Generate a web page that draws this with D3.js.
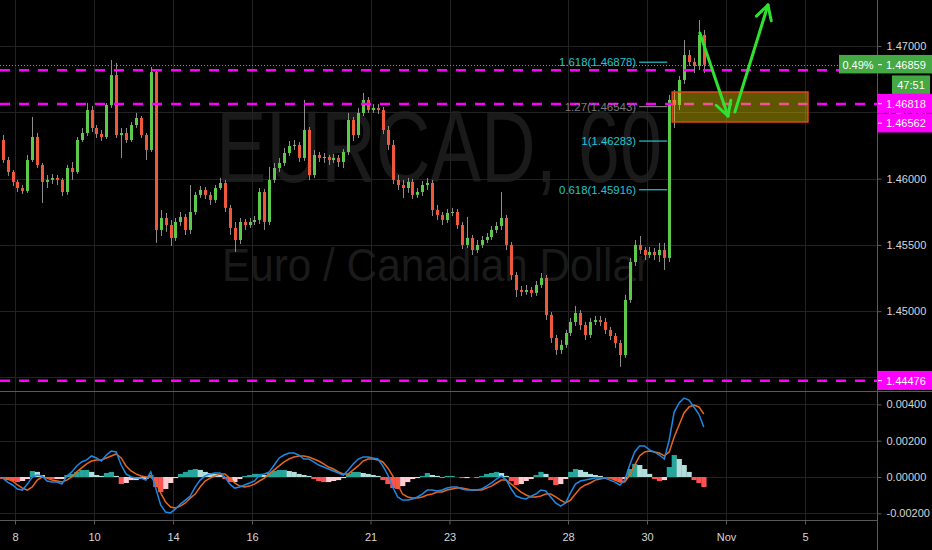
<!DOCTYPE html>
<html><head><meta charset="utf-8">
<script src="https://cdn.jsdelivr.net/npm/d3@7"></script>
<style>html,body{margin:0;padding:0;background:#000;}svg{display:block;}</style>
</head><body>
<svg id="chart" width="932" height="550"></svg>
<script>
// ---------- DATA (EURCAD, 3-hour candles, first bar = Oct 7 evening) ----------
// each row: [open, high, low, close]
const candles = [
[1.46291,1.46329,1.46118,1.46140],[1.46140,1.46163,1.46020,1.46050],[1.46050,1.46065,1.45944,1.45975],
[1.45975,1.45990,1.45899,1.45929],[1.45929,1.45952,1.45884,1.45907],[1.45907,1.46178,1.45892,1.46140],
[1.46140,1.46465,1.46125,1.46314],[1.46314,1.46344,1.46080,1.46103],[1.46103,1.46118,1.45816,1.45975],
[1.45975,1.46027,1.45929,1.45990],[1.45990,1.46035,1.45959,1.46005],[1.46005,1.46027,1.45952,1.45990],
[1.45990,1.46005,1.45869,1.45899],[1.45899,1.46103,1.45877,1.46080],[1.46080,1.46125,1.45990,1.46050],
[1.46050,1.46314,1.46035,1.46291],[1.46291,1.46382,1.46276,1.46344],[1.46344,1.46570,1.46321,1.46517],
[1.46517,1.46548,1.46352,1.46382],[1.46382,1.46404,1.46306,1.46336],[1.46336,1.46367,1.46284,1.46314],
[1.46314,1.46570,1.46299,1.46555],[1.46555,1.46894,1.46533,1.46781],[1.46781,1.46872,1.46306,1.46329],
[1.46329,1.46382,1.46156,1.46344],[1.46344,1.46382,1.46269,1.46291],[1.46291,1.46427,1.46276,1.46404],
[1.46404,1.46495,1.46382,1.46457],[1.46457,1.46472,1.46306,1.46329],[1.46329,1.46344,1.46140,1.46216],
[1.46216,1.46842,1.46201,1.46804],[1.46804,1.46819,1.45515,1.45613],[1.45613,1.45763,1.45567,1.45703],
[1.45703,1.45741,1.45598,1.45650],[1.45650,1.45688,1.45492,1.45552],[1.45552,1.45703,1.45530,1.45673],
[1.45673,1.45748,1.45643,1.45711],[1.45711,1.45733,1.45575,1.45613],[1.45613,1.45952,1.45582,1.45748],
[1.45748,1.45899,1.45726,1.45877],[1.45877,1.45944,1.45854,1.45914],[1.45914,1.45937,1.45846,1.45877],
[1.45877,1.45899,1.45801,1.45839],[1.45839,1.45952,1.45816,1.45929],[1.45929,1.46005,1.45914,1.45967],
[1.45967,1.45990,1.45748,1.45779],[1.45779,1.45801,1.45575,1.45628],[1.45628,1.45673,1.45447,1.45537],
[1.45537,1.45703,1.45507,1.45673],[1.45673,1.45696,1.45613,1.45650],[1.45650,1.45703,1.45628,1.45673],
[1.45673,1.45718,1.45650,1.45688],[1.45688,1.45929,1.45658,1.45899],[1.45899,1.45922,1.45613,1.45673],
[1.45673,1.46088,1.45650,1.45990],[1.45990,1.46118,1.45967,1.46080],[1.46080,1.46156,1.46050,1.46118],
[1.46118,1.46231,1.46095,1.46193],[1.46193,1.46284,1.46171,1.46246],[1.46246,1.46291,1.46216,1.46254],
[1.46254,1.46276,1.46125,1.46156],[1.46156,1.46593,1.46133,1.46367],[1.46367,1.46389,1.45990,1.46027],
[1.46027,1.46216,1.46005,1.46178],[1.46178,1.46201,1.46125,1.46156],[1.46156,1.46193,1.46118,1.46163],
[1.46163,1.46178,1.46103,1.46140],[1.46140,1.46186,1.46118,1.46156],[1.46156,1.46178,1.46088,1.46125],
[1.46125,1.46223,1.46080,1.46201],[1.46201,1.46495,1.46178,1.46442],[1.46442,1.46465,1.46284,1.46329],
[1.46329,1.46533,1.46306,1.46495],[1.46495,1.46646,1.46472,1.46593],[1.46593,1.46615,1.46495,1.46517],
[1.46517,1.46563,1.46495,1.46533],[1.46533,1.46563,1.46487,1.46517],[1.46517,1.46540,1.46336,1.46367],
[1.46367,1.46397,1.46216,1.46254],[1.46254,1.46291,1.45959,1.45990],[1.45990,1.46027,1.45914,1.45952],
[1.45952,1.45990,1.45854,1.45929],[1.45929,1.46005,1.45892,1.45975],[1.45975,1.45997,1.45846,1.45877],
[1.45877,1.45929,1.45854,1.45899],[1.45899,1.45982,1.45869,1.45952],[1.45952,1.46005,1.45914,1.45967],
[1.45967,1.45990,1.45718,1.45763],[1.45763,1.45801,1.45688,1.45726],[1.45726,1.45748,1.45650,1.45688],
[1.45688,1.45771,1.45665,1.45741],[1.45741,1.45779,1.45718,1.45748],[1.45748,1.45771,1.45620,1.45650],
[1.45650,1.45673,1.45469,1.45500],[1.45500,1.45711,1.45477,1.45552],[1.45552,1.45575,1.45424,1.45462],
[1.45462,1.45537,1.45439,1.45500],[1.45500,1.45567,1.45477,1.45537],[1.45537,1.45590,1.45515,1.45560],
[1.45560,1.45643,1.45537,1.45613],[1.45613,1.45673,1.45590,1.45643],[1.45643,1.45899,1.45613,1.45703],
[1.45703,1.45726,1.45462,1.45500],[1.45500,1.45522,1.45236,1.45273],[1.45273,1.45296,1.45107,1.45160],
[1.45160,1.45190,1.45115,1.45145],[1.45145,1.45198,1.45123,1.45160],[1.45160,1.45183,1.45107,1.45138],
[1.45138,1.45228,1.45115,1.45198],[1.45198,1.45288,1.45175,1.45251],[1.45251,1.45273,1.44934,1.44972],
[1.44972,1.44994,1.44761,1.44798],[1.44798,1.44821,1.44670,1.44708],[1.44708,1.44783,1.44678,1.44746],
[1.44746,1.44859,1.44723,1.44836],[1.44836,1.44949,1.44813,1.44919],[1.44919,1.45040,1.44889,1.44987],
[1.44987,1.45009,1.44859,1.44896],[1.44896,1.44919,1.44783,1.44821],[1.44821,1.44949,1.44798,1.44919],
[1.44919,1.44964,1.44896,1.44934],[1.44934,1.44964,1.44889,1.44919],[1.44919,1.44949,1.44828,1.44859],
[1.44859,1.44881,1.44783,1.44813],[1.44813,1.44836,1.44723,1.44761],[1.44761,1.44783,1.44580,1.44670],
[1.44670,1.45123,1.44648,1.45085],[1.45085,1.45402,1.45062,1.45371],[1.45371,1.45537,1.45341,1.45500],
[1.45500,1.45567,1.45432,1.45462],[1.45462,1.45484,1.45386,1.45424],[1.45424,1.45484,1.45402,1.45447],
[1.45447,1.45477,1.45386,1.45424],[1.45424,1.45515,1.45371,1.45462],[1.45462,1.45515,1.45311,1.45402],
[1.45402,1.46631,1.45371,1.46593],[1.46593,1.46668,1.46382,1.46555],[1.46555,1.46774,1.46517,1.46744],
[1.46744,1.47045,1.46713,1.46932],[1.46932,1.46970,1.46849,1.46879],[1.46879,1.46910,1.46796,1.46849],
[1.46849,1.47196,1.46819,1.47083],[1.47083,1.47121,1.46796,1.46859]
];
const firstBar = -3; // bar index of first candle (0 = Oct 8 00:00)

const macdLine = [
-0.00006,-0.00028,-0.00044,-0.00066,-0.00072,-0.00039,0,0.00011,0.00006,-0.00022,
-0.00028,-0.00028,-0.00039,0.00006,0.00028,0.00061,0.00083,0.00094,0.00116,0.00105,
0.00088,0.00121,0.00143,0.00138,0.00066,0.00017,0,-0.00006,-0.00006,-0.00017,
0.00028,-0.00061,-0.00154,-0.00193,-0.00198,-0.00176,-0.00149,-0.00127,-0.00105,-0.00055,
-0.00017,0.00006,0.00017,0.00022,0.00022,0,-0.00039,-0.00061,-0.00055,-0.00044,
-0.00033,-0.00022,0.00011,0.00017,0.00028,0.00066,0.00105,0.00121,0.00132,0.00132,
0.00121,0.00099,0.00099,0.00083,0.00066,0.00055,0.00044,0.00033,0.00022,0.00011,
0.00039,0.00072,0.00099,0.00110,0.00110,0.00105,0.00099,0.00061,0.00011,-0.00055,
-0.00110,-0.00127,-0.00127,-0.00121,-0.00110,-0.00094,-0.00072,-0.00072,-0.00077,-0.00072,
-0.00061,-0.00055,-0.00055,-0.00066,-0.00072,-0.00072,-0.00072,-0.00066,-0.00050,-0.00033,
-0.00011,0.00006,-0.00017,-0.00066,-0.00105,-0.00116,-0.00121,-0.00105,-0.00094,-0.00072,
-0.00077,-0.00110,-0.00143,-0.00160,-0.00143,-0.00088,-0.00039,-0.00022,-0.00017,-0.00011,
-0.00006,-0.00006,-0.00006,-0.00017,-0.00028,-0.00044,-0.00017,0.00066,0.00138,0.00171,
0.00171,0.00149,0.00138,0.00121,0.00099,0.00204,0.00358,0.00408,0.00435,0.00424,
0.00386,0.00347,0.00276];

const signalLine = [
-0.00006,-0.00011,-0.00022,-0.00044,-0.00061,-0.00072,-0.00055,-0.00017,0,-0.00006,
-0.00017,-0.00022,-0.00028,-0.00017,0,0.00028,0.00050,0.00072,0.00088,0.00094,
0.00094,0.00105,0.00116,0.00127,0.00105,0.00061,0.00033,0.00017,0.00006,0,
0,-0.00028,-0.00088,-0.00138,-0.00165,-0.00171,-0.00160,-0.00143,-0.00116,-0.00094,
-0.00055,-0.00022,-0.00006,0.00006,0.00017,0.00017,-0.00006,-0.00033,-0.00050,-0.00055,
-0.00050,-0.00039,-0.00022,-0.00006,0.00017,0.00039,0.00061,0.00083,0.00099,0.00110,
0.00116,0.00116,0.00110,0.00099,0.00088,0.00072,0.00055,0.00044,0.00028,0.00017,
0.00017,0.00039,0.00061,0.00088,0.00099,0.00099,0.00094,0.00083,0.00050,0.00006,
-0.00044,-0.00094,-0.00110,-0.00116,-0.00116,-0.00110,-0.00099,-0.00094,-0.00083,-0.00083,
-0.00072,-0.00066,-0.00061,-0.00061,-0.00066,-0.00072,-0.00072,-0.00072,-0.00061,-0.00050,
-0.00033,-0.00017,-0.00017,-0.00039,-0.00061,-0.00083,-0.00099,-0.00110,-0.00110,-0.00105,
-0.00094,-0.00094,-0.00110,-0.00127,-0.00143,-0.00127,-0.00094,-0.00061,-0.00044,-0.00033,
-0.00017,-0.00011,-0.00006,-0.00006,-0.00017,-0.00028,-0.00028,0.00011,0.00066,0.00116,
0.00138,0.00143,0.00138,0.00132,0.00116,0.00138,0.00220,0.00287,0.00353,0.00386,
0.00397,0.00386,0.00347];

const histogram = [
-0.00011,-0.00017,-0.00022,-0.00028,-0.00022,-0.00011,0.00033,0.00028,0.00011,-0.00006,
-0.00011,-0.00011,-0.00011,0.00011,0.00017,0.00028,0.00039,0.00039,0.00028,0.00011,
0.00006,0.00022,0.00028,0.00006,-0.00039,-0.00033,-0.00017,-0.00017,-0.00011,-0.00011,
0.00011,-0.00055,-0.00083,-0.00066,-0.00033,-0.00006,0.00017,0.00028,0.00039,0.00044,
0.00039,0.00028,0.00022,0.00017,0.00011,-0.00011,-0.00028,-0.00028,-0.00011,0.00006,
0.00011,0.00017,0.00017,0.00011,0.00022,0.00033,0.00039,0.00039,0.00033,0.00028,
0.00017,0.00011,0.00006,-0.00011,-0.00022,-0.00028,-0.00028,-0.00022,-0.00017,-0.00006,
0.00017,0.00028,0.00028,0.00022,0.00017,0.00011,0.00006,-0.00017,-0.00039,-0.00061,
-0.00066,-0.00050,-0.00028,-0.00011,-0.00006,0.00006,0.00022,0.00011,0.00006,-0.00006,
0.00006,0.00006,0,-0.00006,-0.00006,0,-0.00006,0.00006,0.00017,0.00022,
0.00028,0.00022,0.00006,-0.00022,-0.00044,-0.00039,-0.00022,-0.00011,0.00011,0.00028,
0.00017,-0.00017,-0.00044,-0.00039,-0.00011,0.00028,0.00044,0.00039,0.00028,0.00017,
0.00011,0.00006,0,-0.00006,-0.00017,-0.00028,-0.00011,0.00044,0.00072,0.00066,
0.00044,0.00017,-0.00011,-0.00022,-0.00017,0.00055,0.00121,0.00099,0.00066,0.00028,
-0.00017,-0.00033,-0.00055];

const dayLabels = ["8","10","14","16","21","23","28","30","Nov","5"];
const dayIndex  = [0,2,4,6,9,11,14,16,18,20];   // trading-day number from Oct 8
const barsPerDay = 8;
const priceTicks = [1.445,1.450,1.455,1.460,1.465,1.470];
const macdTicks = [-0.002,0,0.002,0.004];
const levelPrices = [1.46818,1.46562,1.44476];
const fibRatios = ["1.618","1.27","1","0.618"];
const fibPrices = [1.46878,1.46543,1.46283,1.45916];
const fibBars = [126.4,132.1];
const zonePrices = [1.46653,1.46427];
const zoneBars = [133.1,160.6];
const arrowDown = [[138.7,1.47098],[144.4,1.46472]];
const arrowUp = [[145.8,1.46502],[152.5,1.47309]];
const lastPrice = 1.46859, changePct = "0.49%", countdown = "47:51";
const symbolText = "EURCAD, 60", descText = "Euro / Canadian Dollar";

// ---------- LAYOUT ----------
const W=932,H=550, AX=877, MAIN_B=391, MACD_T=392, MACD_B=520;
const UP="#5cc94b", DOWN="#f0583c", WICK="#8c8c8c", GRID="#222222", AXC="#5a5a5a";
const TXT="#d6d6d6", FONT="'Liberation Sans', Arial, sans-serif";
const svg=d3.select("#chart");
svg.append("rect").attr("width",W).attr("height",H).attr("fill","#000");

const xs=d3.scaleLinear().domain([0,barsPerDay]).range([15,54.5]);
const ys=d3.scaleLinear().domain([1.45,1.47]).range([311.2,46]);
const ym=d3.scaleLinear().domain([-0.002,0.004]).range([513.3,404.4]);

const defs=svg.append("defs");
defs.append("clipPath").attr("id","cm").append("rect").attr("x",0).attr("y",0).attr("width",AX).attr("height",MAIN_B);
defs.append("clipPath").attr("id","cd").append("rect").attr("x",0).attr("y",MACD_T).attr("width",AX).attr("height",MACD_B-MACD_T);

// watermark
const wm=svg.append("g").attr("fill","#1a1a1a").attr("font-family",FONT);
wm.append("text").attr("x",216).attr("y",182).attr("font-size",102).attr("textLength",446)
  .attr("lengthAdjust","spacingAndGlyphs").text(symbolText);
wm.append("text").attr("x",222).attr("y",281).attr("font-size",46).attr("textLength",428)
  .attr("lengthAdjust","spacingAndGlyphs").text(descText);

// grid
const grid=svg.append("g").attr("stroke",GRID).attr("stroke-width",1);
dayIndex.forEach(d=>{const gx=Math.round(xs(d*barsPerDay))+0.5;
  grid.append("line").attr("x1",gx).attr("x2",gx).attr("y1",0).attr("y2",MACD_B);});
priceTicks.forEach(p=>{const gy=Math.round(ys(p))+0.5;
  grid.append("line").attr("x1",0).attr("x2",AX).attr("y1",gy).attr("y2",gy);});
macdTicks.forEach(v=>{const gy=Math.round(ym(v))+0.5;
  grid.append("line").attr("x1",0).attr("x2",AX).attr("y1",gy).attr("y2",gy);});

// main pane
const main=svg.append("g").attr("clip-path","url(#cm)");
const cData=candles.map((c,i)=>({b:firstBar+i,o:c[0],h:c[1],l:c[2],c:c[3]}));
main.append("g").selectAll("line").data(cData).join("line")
  .attr("x1",d=>Math.round(xs(d.b+0.5))+0.5).attr("x2",d=>Math.round(xs(d.b+0.5))+0.5)
  .attr("y1",d=>ys(d.h)).attr("y2",d=>ys(d.l)).attr("stroke",WICK).attr("stroke-width",1);
main.append("g").selectAll("rect").data(cData).join("rect")
  .attr("x",d=>Math.round(xs(d.b+0.5))-1).attr("width",3)
  .attr("y",d=>ys(Math.max(d.o,d.c)))
  .attr("height",d=>Math.max(1,ys(Math.min(d.o,d.c))-ys(Math.max(d.o,d.c))))
  .attr("fill",d=>d.c>=d.o?UP:DOWN);

// magenta horizontal levels
levelPrices.forEach(p=>main.append("line").attr("x1",0).attr("x2",AX).attr("y1",ys(p)).attr("y2",ys(p))
  .attr("stroke","#ff00ff").attr("stroke-width",2.5).attr("stroke-dasharray","10 9"));
// current price dotted line
main.append("line").attr("x1",0).attr("x2",AX).attr("y1",Math.round(ys(lastPrice))+0.5).attr("y2",Math.round(ys(lastPrice))+0.5)
  .attr("stroke","#4caf50").attr("stroke-width",1).attr("stroke-dasharray","1 2");

// fib levels
fibRatios.forEach((r,i)=>{
  const col = r==="1.27" ? "#7d7d7d" : "#22c6d0";
  const fy=ys(fibPrices[i]);
  main.append("line").attr("x1",xs(fibBars[0])).attr("x2",xs(fibBars[1])).attr("y1",fy).attr("y2",fy)
    .attr("stroke",col).attr("stroke-width",1.2);
  main.append("text").attr("x",xs(fibBars[0])-3).attr("y",fy+4).attr("text-anchor","end")
    .attr("font-family",FONT).attr("font-size",11).attr("fill",col)
    .attr("textLength",r.length*5.6+49).attr("lengthAdjust","spacingAndGlyphs")
    .text(`${r}(${fibPrices[i].toFixed(5)})`);
});

// zone rectangle
main.append("rect").attr("x",xs(zoneBars[0])).attr("y",ys(zonePrices[0]))
  .attr("width",xs(zoneBars[1])-xs(zoneBars[0])).attr("height",ys(zonePrices[1])-ys(zonePrices[0]))
  .attr("fill","rgba(215,190,0,0.45)").attr("stroke","#e0461e").attr("stroke-width",1.5);

// arrows
function drawArrow(pts){
  const [a,b]=pts.map(p=>[xs(p[0]),ys(p[1])]);
  const g=svg.append("g").attr("stroke","#2fe22f").attr("stroke-width",3).attr("stroke-linecap","round").attr("fill","none");
  g.append("line").attr("x1",a[0]).attr("y1",a[1]).attr("x2",b[0]).attr("y2",b[1]);
  const ang=Math.atan2(a[1]-b[1],a[0]-b[0]), L=16, sp=29*Math.PI/180;
  [ang-sp,ang+sp].forEach(t=>g.append("line").attr("x1",b[0]).attr("y1",b[1])
    .attr("x2",b[0]+L*Math.cos(t)).attr("y2",b[1]+L*Math.sin(t)));
}
drawArrow(arrowDown); drawArrow(arrowUp);

// MACD pane
const mp=svg.append("g").attr("clip-path","url(#cd)");
const hData=histogram.map((v,i)=>({b:firstBar+i,v,prev:i>0?histogram[i-1]:0}));
mp.append("g").selectAll("rect").data(hData).join("rect")
  .attr("x",d=>xs(d.b)).attr("width",xs(1)-xs(0)+0.3)
  .attr("y",d=>Math.min(ym(0),ym(d.v))).attr("height",d=>Math.abs(ym(d.v)-ym(0)))
  .attr("fill",d=>d.v>=0?(d.v>=d.prev?"#26a69a":"#b2dfdb"):(d.v<d.prev?"#ff5252":"#ffcdd2"));
const lineGen=d3.line().x((d,i)=>xs(firstBar+i+0.5)).y(d=>ym(d));
mp.append("path").datum(signalLine).attr("d",lineGen).attr("fill","none").attr("stroke","#e8661c").attr("stroke-width",1.5);
mp.append("path").datum(macdLine).attr("d",lineGen).attr("fill","none").attr("stroke","#1e88e5").attr("stroke-width",1.5);

// separators & axis lines
svg.append("line").attr("x1",0).attr("x2",W).attr("y1",MAIN_B+0.5).attr("y2",MAIN_B+0.5).attr("stroke",AXC);
svg.append("line").attr("x1",0).attr("x2",AX).attr("y1",MACD_B+0.5).attr("y2",MACD_B+0.5).attr("stroke",AXC);
svg.append("line").attr("x1",AX+0.5).attr("x2",AX+0.5).attr("y1",0).attr("y2",H).attr("stroke",AXC);

function styleAxis(g){
  g.select(".domain").remove();
  g.attr("font-family",FONT).attr("font-size",11);
  g.selectAll(".tick line").attr("stroke",AXC);
  g.selectAll(".tick text").attr("fill",TXT);
}
const pa=svg.append("g").attr("transform",`translate(${AX+0.5},0)`)
  .call(d3.axisRight(ys).tickValues(priceTicks).tickFormat(d=>d.toFixed(5)).tickSize(4).tickPadding(5));
styleAxis(pa);
const ma=svg.append("g").attr("transform",`translate(${AX+0.5},0)`)
  .call(d3.axisRight(ym).tickValues(macdTicks).tickFormat(d=>d.toFixed(5)).tickSize(4).tickPadding(5));
styleAxis(ma);
const ta=svg.append("g").attr("transform",`translate(0,${MACD_B+0.5})`)
  .call(d3.axisBottom(xs).tickValues(dayIndex.map(d=>d*barsPerDay)).tickFormat((d,i)=>dayLabels[i]).tickSize(4).tickPadding(9));
styleAxis(ta);

// right-side price labels with collision stacking
const LH=19.5;
let items=[{kind:"price",y:ys(lastPrice),h:2*LH}].concat(levelPrices.map(p=>({kind:"level",p,y:ys(p),h:LH})));
items.sort((a,b)=>a.y-b.y);
let prevBottom=-1e9;
items.forEach(it=>{let top=it.y-LH/2; if(top<prevBottom) top=prevBottom; it.top=top; prevBottom=top+it.h;});
const lab=svg.append("g").attr("font-family",FONT).attr("font-size",11);
const GREEN="#44a844", MAG="#ff00ff";
items.forEach(it=>{
  if(it.kind==="price"){
    lab.append("rect").attr("x",AX).attr("y",it.top).attr("width",W-AX).attr("height",LH-1).attr("fill",GREEN);
    lab.append("line").attr("x1",AX+1).attr("x2",AX+5).attr("y1",it.top+LH/2).attr("y2",it.top+LH/2).attr("stroke","#fff");
    lab.append("text").attr("x",AX+9).attr("y",it.top+LH/2+4).attr("fill","#fff").text(lastPrice.toFixed(5));
    lab.append("rect").attr("x",AX-38).attr("y",it.top).attr("width",38).attr("height",LH-1).attr("fill",GREEN);
    lab.append("text").attr("x",AX-19).attr("y",it.top+LH/2+4).attr("text-anchor","middle").attr("fill","#fff").text(changePct);
    lab.append("rect").attr("x",AX+15).attr("y",it.top+LH+1).attr("width",38).attr("height",LH-1).attr("fill",GREEN);
    lab.append("text").attr("x",AX+34).attr("y",it.top+LH+LH/2+4.5).attr("text-anchor","middle").attr("fill","#fff").text(countdown);
  } else {
    lab.append("rect").attr("x",AX).attr("y",it.top).attr("width",W-AX).attr("height",LH-0.5).attr("fill",MAG);
    lab.append("line").attr("x1",AX+1).attr("x2",AX+5).attr("y1",it.top+LH/2).attr("y2",it.top+LH/2).attr("stroke","#fff");
    lab.append("text").attr("x",AX+9).attr("y",it.top+LH/2+4).attr("fill","#fff").text(it.p.toFixed(5));
  }
});
</script>
</body></html>
